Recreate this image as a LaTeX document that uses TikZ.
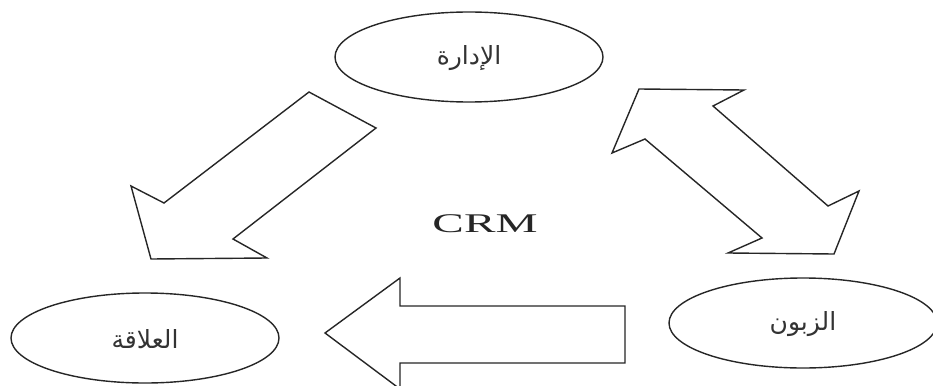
\documentclass[tikz,border=0pt]{standalone}
\usepackage{fontspec}
\setmainfont{Liberation Serif}
\newfontfamily\arabicfont[Script=Arabic]{DejaVu Sans}
\TeXXeTstate=1
\usetikzlibrary{shapes.geometric}
\tikzset{
  lineclr/.style={draw=black!85, line width=1.4pt, line join=miter},
  oval/.style={ellipse, lineclr, minimum width=268pt, minimum height=90pt, inner sep=0pt},
  artext/.style={font=\arabicfont\fontsize{25}{28}\selectfont, text=black!80},
  bigarrow/.style={lineclr, fill=white},
}
\begin{document}
\begin{tikzpicture}[x=1pt,y=-1pt]
\useasboundingbox (0,0) rectangle (933,385);
\clip (0,0) rectangle (933,385);
\node[oval] (adm) at (469,57) {};
\node[oval] (rel) at (145,338) {};
\node[oval] (cli) at (803,323) {};
\node[artext] at ([yshift=-1pt]adm.center) {\beginR الإدارة\endR};
\node[artext] at ([yshift=-1pt]rel.center) {\beginR العلاقة\endR};
\node[artext] at ([yshift=-1pt]cli.center) {\beginR الزبون\endR};
\node[font=\fontsize{27}{30}\selectfont, text=black!85] (crm) at (485,224) {\scalebox{1.75}[1]{CRM}};
% left arrow: management -> relationship
\draw[bigarrow] (309,92) -- (376,128) -- (233,239) -- (267,258) -- (151,259) -- (131,186) -- (164,203) -- cycle;
% double arrow: management <-> client
\draw[bigarrow] (639,89) -- (744,90) -- (713,106) -- (828,206) -- (859,191) -- (834,254) -- (728,253) -- (762,238) -- (645,139) -- (612,153) -- cycle;
% bottom arrow: client -> relationship
\draw[bigarrow] (325,333) -- (400,278) -- (400,306) -- (625,306) -- (625,363) -- (400,363) -- (400,389) -- cycle;
\end{tikzpicture}
\end{document}
